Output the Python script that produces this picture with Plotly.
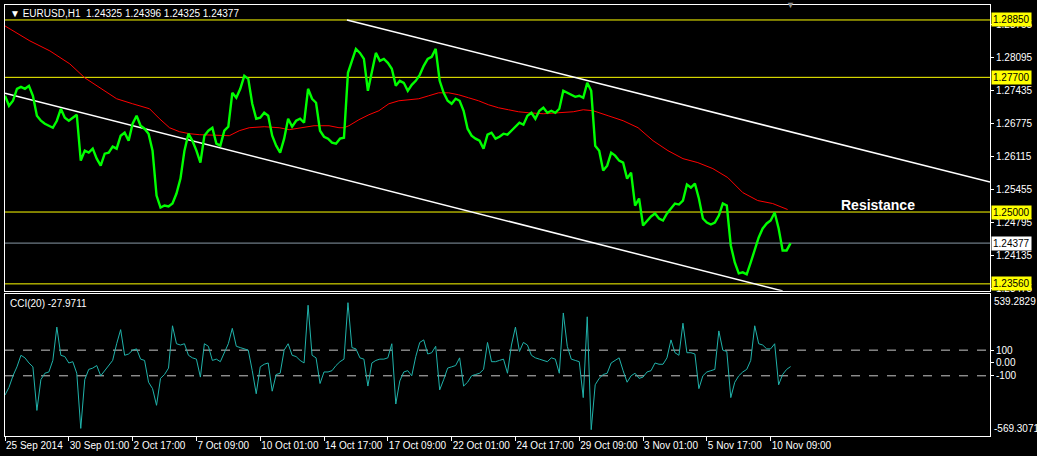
import plotly.graph_objects as go

# ---------------- data ----------------
symbol_title = "\u25BC EURUSD,H1  1.24325 1.24396 1.24325 1.24377"

# close prices, one value every 4 hourly bars (bar index = 4*i)
close = [
    1.2733, 1.2713, 1.2723, 1.2747, 1.2751, 1.2747, 1.2753, 1.2733, 1.2693, 1.2683,
    1.2677, 1.2673, 1.2669, 1.2683, 1.2707, 1.2689, 1.2683, 1.2689, 1.2695, 1.2603,
    1.2623, 1.2619, 1.2627, 1.2607, 1.2593, 1.2617, 1.2619, 1.2631, 1.2627, 1.2653,
    1.2659, 1.2643, 1.2677, 1.2693, 1.2673, 1.2667, 1.2657, 1.2623, 1.2533, 1.2509,
    1.2513, 1.2511, 1.2517, 1.2537, 1.2567, 1.2623, 1.2657, 1.2643, 1.2623, 1.2599,
    1.2653, 1.2663, 1.2669, 1.2637, 1.2633, 1.2663, 1.2671, 1.2739, 1.2729, 1.2747,
    1.2773, 1.2767, 1.2717, 1.2687, 1.2689, 1.2699, 1.2693, 1.2653, 1.2633, 1.2619,
    1.2647, 1.2687, 1.2671, 1.2683, 1.2687, 1.2679, 1.2747, 1.2727, 1.2719, 1.2663,
    1.2651, 1.2647, 1.2639, 1.2637, 1.2647, 1.2649, 1.2779, 1.2803, 1.2827, 1.2819,
    1.2807, 1.2743, 1.2783, 1.2819, 1.2803, 1.2807, 1.2799, 1.2787, 1.2753, 1.2763,
    1.2759, 1.2743, 1.2755, 1.2763, 1.2775, 1.2793, 1.2807, 1.2811, 1.2827, 1.2763,
    1.2739, 1.2723, 1.2717, 1.2727, 1.2723, 1.2703, 1.2667, 1.2653, 1.2647, 1.2643,
    1.2627, 1.2655, 1.2659, 1.2647, 1.2651, 1.2657, 1.2655, 1.2663, 1.2671, 1.2679,
    1.2675, 1.2693, 1.2699, 1.2687, 1.2703, 1.2709, 1.2699, 1.2703, 1.2699, 1.2707,
    1.2743, 1.2739, 1.2735, 1.2731, 1.2733, 1.2729, 1.2759, 1.2743, 1.2633, 1.2623,
    1.2583, 1.2593, 1.2619, 1.2613, 1.2603, 1.2599, 1.2567, 1.2579, 1.2513, 1.2527,
    1.2473, 1.2483, 1.2491, 1.2497, 1.2487, 1.2483, 1.2497, 1.2507, 1.2517, 1.2515,
    1.2523, 1.2555, 1.2549, 1.2557, 1.2527, 1.2487, 1.2479, 1.2475, 1.2479, 1.2493,
    1.2517, 1.2513, 1.2433, 1.2399, 1.2377, 1.2379, 1.2375, 1.2399, 1.2423, 1.2449,
    1.2467, 1.2477, 1.2483, 1.2499, 1.2467, 1.2423, 1.2423, 1.24377,
]

# CCI(20), sampled at the same bars
cci = [
    -250, -190, -100, -30, 60, 40, 0, -30, -370, -130,
    -80, -70, 20, 280, 60, 50, 0, 10, -80, -510,
    -130, -50, -40, -20, -100, -60, -20, 20, 150, 260,
    60, 70, 100, 110, 30, 20, -150, -200, -330, -120,
    -90, -40, 290, 150, 140, 150, 60, 40, 30, -110,
    150, 130, 20, 30, 10, 80, 150, 270, 130, 120,
    110, 100, -60, -240, -30, -10, 0, -220, -90, -80,
    100, 150, 60, 50, 20, 0, 450, 60, 40, -160,
    -70, -70, -60, -20, 10, 30, 470, 120, 110, 40,
    30, -180, 0, 20, 30, 30, 40, 150, -320, -140,
    -70, -60, -100, 50, 160, 180, 70, 80, 130, -210,
    -130, -40, -30, -20, 40, -180, -150, -100, -90, -80,
    -50, 160, 10, 10, 20, 30, -80, 140, 280, 90,
    160, 140, 60, 40, 30, 20, 10, 40, 30, -80,
    390, 130, 30, 20, 10, -270, 360, -520, -170, -120,
    -90, -80, 0, 20, 40, -60, -150, -100, -80, -120,
    -110, -70, -60, 0, -10, -10, 40, 180, 80, 60,
    310, 80, 80, 70, -200, -100, -70, -60, -50, 250,
    100, 90, -270, -150, -100, -70, -50, 20, 290, 150,
    140, 110, 110, 150, -170, -90, -50, -27.9711,
]
bar_hour = [4 * i for i in range(len(close))]

# moving average (red)
ma_hour = [0, 25, 45, 65, 80, 95, 112, 128, 145, 155, 165, 175, 185, 195, 215, 225, 235, 245,
           260, 275, 285, 300, 310, 325, 335, 340, 345, 355, 365, 375, 385, 395, 405, 415,
           425, 435, 445, 455, 465, 475, 485, 495, 505, 515, 525, 540, 555, 570, 580, 590,
           605, 620, 635, 650, 665, 680, 695, 710, 725, 740, 755, 770, 785]
ma_value = [1.2873, 1.2843, 1.2823, 1.2797, 1.2769, 1.2749, 1.2727, 1.2717, 1.2707, 1.2687,
            1.2669, 1.2661, 1.2657, 1.2655, 1.2653, 1.2653, 1.2663, 1.2669, 1.2671, 1.2669,
            1.2665, 1.2669, 1.2673, 1.2673, 1.2669, 1.2669, 1.2673, 1.2685, 1.2695, 1.2703,
            1.2717, 1.2723, 1.2725, 1.2727, 1.2733, 1.2739, 1.2739, 1.2735, 1.2729, 1.2723,
            1.2715, 1.2709, 1.2705, 1.2701, 1.2699, 1.2697, 1.2699, 1.2701, 1.2705, 1.2703,
            1.2693, 1.2683, 1.2669, 1.2643, 1.2623, 1.2607, 1.2599, 1.2587, 1.2569, 1.2539,
            1.2523, 1.2517, 1.2505]

# trend channel (two points each)
upper_hour = [343, 988]
upper_price = [1.2885, 1.2560]
lower_hour = [0, 780]
lower_price = [1.2738, 1.23418]

yellow_levels = [1.28850, 1.27700, 1.25000, 1.23560]
current_price = 1.24377

price_ticks = [1.28755, 1.28095, 1.27435, 1.26775, 1.26115, 1.25455, 1.24795, 1.24135, 1.23475]
cci_max, cci_min = 539.2829, -569.3071
cci_levels = [100, -100]

time_tick_hours = [0, 64, 128, 192, 256, 320, 384, 448, 512, 576, 640, 704, 768]
time_tick_labels = ["25 Sep 2014", "30 Sep 01:00", "2 Oct 17:00", "7 Oct 09:00", "10 Oct 01:00",
                    "14 Oct 17:00", "17 Oct 09:00", "22 Oct 01:00", "24 Oct 17:00", "29 Oct 09:00",
                    "3 Nov 01:00", "5 Nov 17:00", "10 Nov 09:00"]

# ---------------- figure ----------------
FONT = "Liberation Sans"
FS = 10
fig = go.Figure()

fig.add_trace(go.Scatter(x=ma_hour, y=ma_value, mode="lines", line=dict(color="#FF0000", width=1),
                         xaxis="x2", yaxis="y", hoverinfo="skip"))
fig.add_trace(go.Scatter(x=upper_hour, y=upper_price, mode="lines", line=dict(color="white", width=1.5),
                         xaxis="x2", yaxis="y", hoverinfo="skip"))
fig.add_trace(go.Scatter(x=lower_hour, y=lower_price, mode="lines", line=dict(color="white", width=1.5),
                         xaxis="x2", yaxis="y", hoverinfo="skip"))
fig.add_trace(go.Scatter(x=bar_hour, y=close, mode="lines", line=dict(color="#00FF00", width=2.4),
                         xaxis="x2", yaxis="y"))
fig.add_trace(go.Scatter(x=bar_hour, y=cci, mode="lines", line=dict(color="#20B2AA", width=1),
                         xaxis="x", yaxis="y2"))

shapes = []
for lv in yellow_levels:
    shapes.append(dict(type="line", xref="x2 domain", x0=0, x1=1, yref="y", y0=lv, y1=lv,
                       line=dict(color="#FFFF00", width=1), layer="below"))
shapes.append(dict(type="line", xref="x2 domain", x0=0, x1=1, yref="y", y0=current_price, y1=current_price,
                   line=dict(color="#8899A6", width=1), layer="below"))
for lv in cci_levels:
    shapes.append(dict(type="line", xref="x domain", x0=0, x1=1, yref="y2", y0=lv, y1=lv,
                       line=dict(color="#C8C8C8", width=1, dash="dash"), layer="below"))

annotations = []
for lv in yellow_levels:
    annotations.append(dict(xref="paper", x=1, xanchor="left", yref="y", y=lv, yanchor="middle",
                            text=f"{lv:.5f}", showarrow=False, bgcolor="#FFFF00",
                            font=dict(family=FONT, size=FS, color="black"), borderpad=1, xshift=1))
annotations.append(dict(xref="paper", x=1, xanchor="left", yref="y", y=current_price, yanchor="middle",
                        text=f"{current_price:.5f}", showarrow=False, bgcolor="white",
                        font=dict(family=FONT, size=FS, color="black"), borderpad=1, xshift=1))
annotations.append(dict(xref="paper", x=1, xanchor="left", yref="y2", y=cci_max, yanchor="top",
                        text=f"{cci_max:.4f}", showarrow=False, xshift=2,
                        font=dict(family=FONT, size=FS, color="white")))
annotations.append(dict(xref="paper", x=1, xanchor="left", yref="y2", y=cci_min, yanchor="bottom",
                        text=f"{cci_min:.4f}", showarrow=False, xshift=2,
                        font=dict(family=FONT, size=FS, color="white")))
annotations.append(dict(xref="paper", x=0, xanchor="left", yref="paper", y=1, yanchor="top",
                        text=symbol_title, showarrow=False, xshift=3, yshift=-1,
                        font=dict(family=FONT, size=FS, color="white")))
annotations.append(dict(xref="paper", x=0, xanchor="left", yref="y2 domain", y=1, yanchor="top",
                        text=f"CCI(20) {cci[-1]:.4f}", showarrow=False, xshift=3, yshift=-2,
                        font=dict(family=FONT, size=FS, color="white")))
annotations.append(dict(xref="x2", x=876, yref="y", y=1.2515, text="<b>Resistance</b>", showarrow=False,
                        font=dict(family="Liberation Sans", size=14, color="white")))
annotations.append(dict(xref="x2", x=788, yref="paper", y=1, yanchor="middle", text="\u25BC", showarrow=False,
                        font=dict(family=FONT, size=9, color="#909090")))

axis_common = dict(showgrid=False, zeroline=False, showline=True, mirror=True, linecolor="white", linewidth=1)

fig.update_layout(
    width=1037, height=456,
    margin=dict(l=5, r=44, t=4, b=20),
    paper_bgcolor="black", plot_bgcolor="black",
    showlegend=False,
    shapes=shapes, annotations=annotations,
    xaxis=dict(**axis_common, range=[0, 988], anchor="y2", tickvals=time_tick_hours,
               ticktext=time_tick_labels, ticks="outside", ticklen=4, tickcolor="white",
               ticklabelposition="outside right", tickangle=0, ticklabelstandoff=0,
               tickfont=dict(family=FONT, size=FS, color="white")),
    xaxis2=dict(**axis_common, range=[0, 988], anchor="y", matches="x", showticklabels=False),
    yaxis=dict(**axis_common, domain=[0.3368, 1], range=[1.2342, 1.2915], side="right",
               tickvals=price_ticks, ticktext=[f"{t:.5f}" for t in price_ticks],
               ticks="outside", ticklen=3, tickcolor="white",
               tickfont=dict(family=FONT, size=FS, color="white")),
    yaxis2=dict(**axis_common, domain=[0, 0.3299], range=[cci_min, cci_max], side="right",
                tickvals=[100, 0, -100], ticktext=["100", "0.00", "-100"],
                ticks="outside", ticklen=3, tickcolor="white",
                tickfont=dict(family=FONT, size=FS, color="white")),
)

fig.write_html("out.html", config={"displayModeBar": False},
               post_script="document.body.style.margin='0';document.body.style.overflow='hidden';")
